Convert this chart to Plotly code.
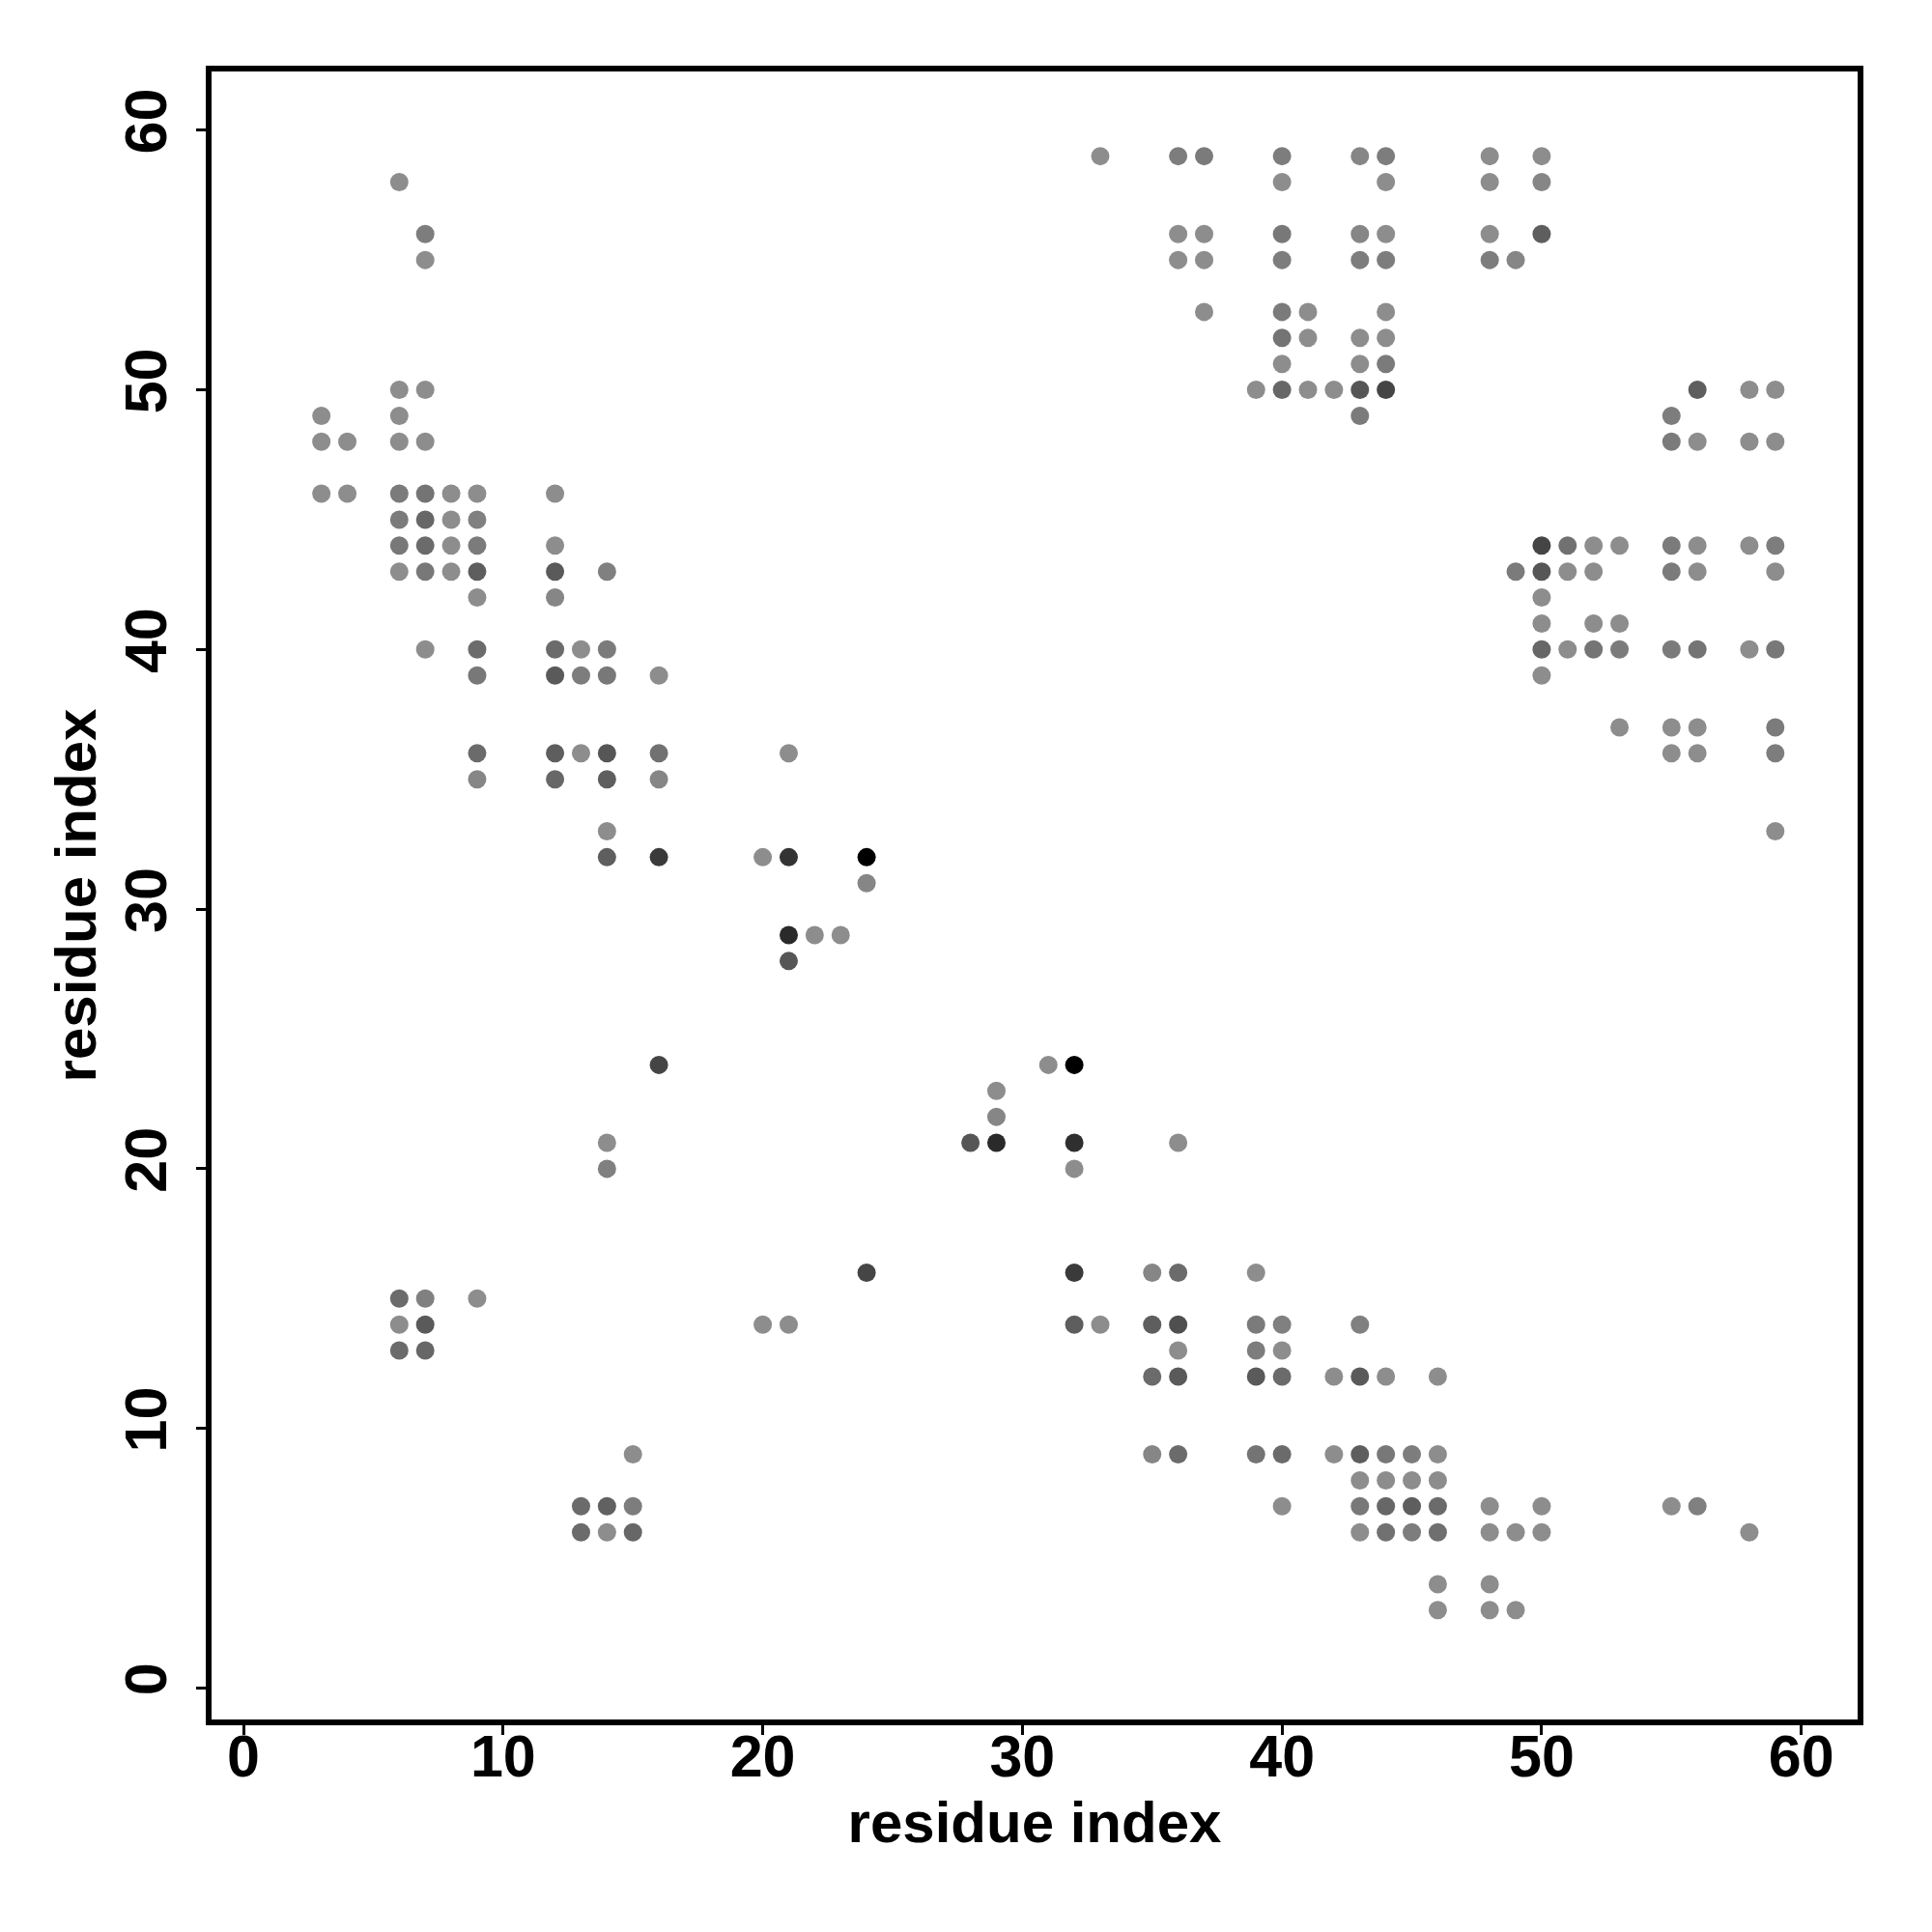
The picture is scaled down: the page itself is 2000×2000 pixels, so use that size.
import plotly.graph_objects as go

# Contact map: residue i (x), residue j (y), contact score (darker = stronger)
res_i = [
    33, 36, 37, 40, 43, 44, 48, 50,            # j=59
    6, 40, 44, 48, 50,                         # j=58
    7, 36, 37, 40, 43, 44, 48, 50,             # j=56
    7, 36, 37, 40, 43, 44, 48, 49,             # j=55
    37, 40, 41, 44,                            # j=53
    40, 41, 43, 44,                            # j=52
    40, 43, 44,                                # j=51
    6, 7, 39, 40, 41, 42, 43, 44, 56, 58, 59,  # j=50
    3, 6, 43, 55,                              # j=49
    3, 4, 6, 7, 55, 56, 58, 59,                # j=48
    3, 4, 6, 7, 8, 9, 12,                      # j=46
    6, 7, 8, 9,                                # j=45
    6, 7, 8, 9, 12, 50, 51, 52, 53, 55, 56, 58, 59,   # j=44
    6, 7, 8, 9, 12, 14, 49, 50, 51, 52, 55, 56, 59,   # j=43
    9, 12, 50,                                 # j=42
    50, 52, 53,                                # j=41
    7, 9, 12, 13, 14, 50, 51, 52, 53, 55, 56, 58, 59, # j=40
    9, 12, 13, 14, 16, 50,                     # j=39
    53, 55, 56, 59,                            # j=37
    9, 12, 13, 14, 16, 21, 55, 56, 59,         # j=36
    9, 12, 14, 16,                             # j=35
    14, 59,                                    # j=33
    14, 16, 20, 21, 24,                        # j=32
    24,                                        # j=31
    21, 22, 23,                                # j=29
    21,                                        # j=28
    16, 31, 32,                                # j=24
    29,                                        # j=23
    29,                                        # j=22
    14, 28, 29, 32, 36,                        # j=21
    14, 32,                                    # j=20
    24, 32, 35, 36, 39,                        # j=16
    6, 7, 9,                                   # j=15
    6, 7, 20, 21, 32, 33, 35, 36, 39, 40, 43,  # j=14
    6, 7, 36, 39, 40,                          # j=13
    35, 36, 39, 40, 42, 43, 44, 46,            # j=12
    15, 35, 36, 39, 40, 42, 43, 44, 45, 46,    # j=9
    43, 44, 45, 46,                            # j=8
    13, 14, 15, 40, 43, 44, 45, 46, 48, 50, 55, 56,   # j=7
    13, 14, 15, 43, 44, 45, 46, 48, 49, 50, 58,       # j=6
    46, 48,                                    # j=4
    46, 48, 49,                                # j=3
]

res_j = (
    [59] * 8 + [58] * 5 + [56] * 8 + [55] * 8 + [53] * 4 + [52] * 4 + [51] * 3
    + [50] * 11 + [49] * 4 + [48] * 8 + [46] * 7 + [45] * 4 + [44] * 13
    + [43] * 13 + [42] * 3 + [41] * 3 + [40] * 13 + [39] * 6 + [37] * 4
    + [36] * 9 + [35] * 4 + [33] * 2 + [32] * 5 + [31] * 1 + [29] * 3
    + [28] * 1 + [24] * 3 + [23] * 1 + [22] * 1 + [21] * 5 + [20] * 2
    + [16] * 5 + [15] * 3 + [14] * 11 + [13] * 5 + [12] * 8 + [9] * 10
    + [8] * 4 + [7] * 12 + [6] * 11 + [4] * 2 + [3] * 3
)

score = [
    0, 0.11, 0.13, 0.11, 0.05, 0.11, 0, 0,                 # j=59
    0, 0, 0, 0, 0.05,                                      # j=58
    0.11, 0, 0, 0.15, 0.05, 0, 0, 0.33,                    # j=56
    0, 0, 0, 0.11, 0.11, 0.11, 0.11, 0.05,                 # j=55
    0, 0.13, 0, 0,                                         # j=53
    0.18, 0, 0, 0,                                         # j=52
    0, 0, 0.13,                                            # j=51
    0, 0, 0, 0.27, 0, 0, 0.39, 0.51, 0.33, 0, 0,           # j=50
    0, 0, 0.13, 0.11,                                      # j=49
    0, 0, 0, 0, 0.13, 0, 0, 0,                             # j=48
    0, 0, 0.13, 0.18, 0, 0, 0,                             # j=46
    0.13, 0.27, 0, 0.09,                                   # j=45
    0.15, 0.24, 0, 0.13, 0, 0.51, 0.2, 0, 0, 0.13, 0, 0, 0.11,      # j=44
    0, 0.15, 0, 0.33, 0.36, 0.09, 0.13, 0.39, 0, 0, 0.13, 0, 0,     # j=43
    0, 0.05, 0,                                            # j=42
    0, 0, 0,                                               # j=41
    0, 0.24, 0.24, 0, 0.13, 0.27, 0, 0.18, 0.13, 0.13, 0.18, 0, 0.15,  # j=40
    0.15, 0.36, 0.11, 0.15, 0, 0,                          # j=39
    0, 0, 0, 0.13,                                         # j=37
    0.24, 0.33, 0, 0.39, 0.2, 0, 0, 0, 0.11,               # j=36
    0.05, 0.27, 0.33, 0.05,                                # j=35
    0, 0,                                                  # j=33
    0.33, 0.59, 0, 0.64, 1.0,                              # j=32
    0.05,                                                  # j=31
    0.7, 0, 0,                                             # j=29
    0.39,                                                  # j=28
    0.51, 0, 1.0,                                          # j=24
    0,                                                     # j=23
    0.05,                                                  # j=22
    0, 0.39, 0.7, 0.67, 0,                                 # j=21
    0.09, 0,                                               # j=20
    0.51, 0.59, 0.05, 0.24, 0,                             # j=16
    0.24, 0.09, 0,                                         # j=15
    0, 0.36, 0, 0, 0.33, 0, 0.33, 0.44, 0.13, 0.09, 0.09,  # j=14
    0.24, 0.27, 0, 0.11, 0,                                # j=13
    0.24, 0.36, 0.36, 0.24, 0, 0.36, 0, 0,                 # j=12
    0, 0.05, 0.24, 0.18, 0.24, 0, 0.33, 0.15, 0.11, 0,     # j=9
    0, 0, 0, 0,                                            # j=8
    0.24, 0.31, 0.11, 0, 0.15, 0.27, 0.33, 0.24, 0, 0, 0, 0.09,  # j=7
    0.24, 0, 0.27, 0, 0.2, 0.11, 0.21, 0, 0, 0, 0,         # j=6
    0, 0,                                                  # j=4
    0, 0, 0,                                               # j=3
]

tick_vals = [0, 10, 20, 30, 40, 50, 60]
axis_label = "residue index"

font_family = "Liberation Sans, Arial, Helvetica, sans-serif"

fig = go.Figure()
fig.add_trace(go.Scatter(
    x=res_i, y=res_j, mode="markers",
    marker=dict(
        size=19,
        color=score,
        cmin=0, cmax=1,
        colorscale=[[0, "rgb(141,141,141)"], [1, "rgb(0,0,0)"]],
        line=dict(width=0),
        showscale=False,
    ),
    showlegend=False,
))

axis_common = dict(
    showgrid=False, zeroline=False,
    showline=True, linewidth=6, linecolor="black", mirror=True,
    ticks="outside", ticklen=10, tickwidth=2.5, tickcolor="black",
    tickvals=tick_vals,
    tickfont=dict(family=font_family, size=61, color="black", weight="bold"),
)

fig.update_layout(
    width=2000, height=2000,
    margin=dict(l=211, r=85, t=66, b=228),
    paper_bgcolor="white", plot_bgcolor="white",
    xaxis=dict(
        range=[-1.23, 62.17],
        ticklabelstandoff=-30,
        title=dict(text=axis_label, standoff=16,
                   font=dict(family=font_family, size=60, color="black", weight="bold")),
        **axis_common,
    ),
    yaxis=dict(
        range=[-1.21, 62.26],
        tickangle=-90,
        ticklabelstandoff=7,
        title=dict(text=axis_label, standoff=0,
                   font=dict(family=font_family, size=60, color="black", weight="bold")),
        **axis_common,
    ),
)

fig.write_html("out.html")
